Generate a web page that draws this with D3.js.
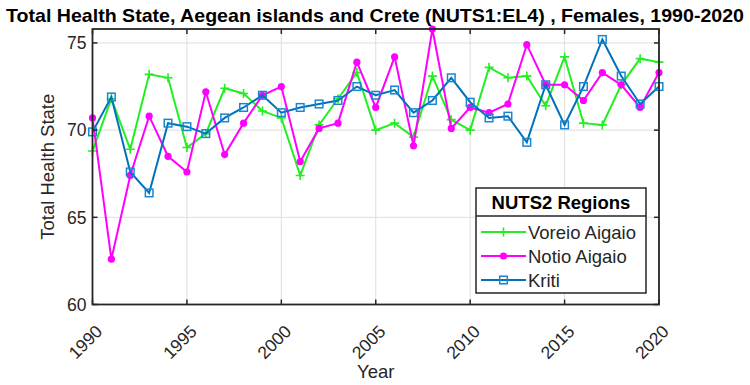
<!DOCTYPE html>
<html>
<head>
<meta charset="utf-8">
<script src="https://cdn.jsdelivr.net/npm/d3@7/dist/d3.min.js"></script>
<style>
  body { margin: 0; background: #fff; }
  svg text { font-family: "Liberation Sans", Arial, sans-serif; }
</style>
</head>
<body>
<div id="chart"></div>
<script>
const years = [1990, 1991, 1992, 1993, 1994, 1995, 1996, 1997, 1998, 1999,
               2000, 2001, 2002, 2003, 2004, 2005, 2006, 2007, 2008, 2009,
               2010, 2011, 2012, 2013, 2014, 2015, 2016, 2017, 2018, 2019, 2020];
const voreioAigaio = [68.8, 71.8, 68.9, 73.2, 73.0, 69.0, 69.8, 72.4, 72.1, 71.1,
                      70.7, 67.4, 70.3, 71.8, 73.3, 70.0, 70.4, 69.6, 73.1, 70.6,
                      70.0, 73.6, 73.0, 73.1, 71.4, 74.2, 70.4, 70.3, 72.6, 74.1, 73.9];
const notioAigaio = [70.7, 62.6, 67.4, 70.8, 68.5, 67.6, 72.2, 68.6, 70.4, 72.0,
                     72.5, 68.2, 70.1, 70.4, 73.9, 71.3, 74.2, 69.1, 75.8, 70.1,
                     71.3, 71.0, 71.5, 74.9, 72.6, 72.6, 71.7, 73.3, 72.6, 71.3, 73.3];
const kriti = [69.9, 71.9, 67.6, 66.4, 70.4, 70.2, 69.8, 70.7, 71.3, 72.0,
               71.0, 71.3, 71.5, 71.7, 72.5, 72.0, 72.3, 71.0, 71.7, 73.0,
               71.6, 70.7, 70.8, 69.3, 72.6, 70.3, 72.5, 75.2, 73.1, 71.5, 72.5];
const xTicks = [1990, 1995, 2000, 2005, 2010, 2015, 2020];
const yTicks = [60, 65, 70, 75];
const seriesNames = ['Voreio Aigaio', 'Notio Aigaio', 'Kriti'];

const W = 750, H = 385;
const margin = { top: 29, right: 91, bottom: 80.5, left: 92.5 };
const width = W - margin.left - margin.right;
const height = H - margin.top - margin.bottom;
const axisCol = '#262626';

const svg = d3.select('#chart').append('svg')
  .attr('width', W).attr('height', H);

const x = d3.scaleLinear().domain([1990, 2020]).range([margin.left, margin.left + width]);
const y = d3.scaleLinear().domain([60, 75.8]).range([margin.top + height, margin.top]);

// grid
svg.append('g').selectAll('line.gx')
  .data(xTicks).enter().append('line')
  .attr('x1', d => x(d)).attr('x2', d => x(d))
  .attr('y1', y(60)).attr('y2', y(75.8))
  .attr('stroke', '#dedede').attr('stroke-width', 1);
svg.append('g').selectAll('line.gy')
  .data(yTicks).enter().append('line')
  .attr('x1', x(1990)).attr('x2', x(2020))
  .attr('y1', d => y(d)).attr('y2', d => y(d))
  .attr('stroke', '#dedede').attr('stroke-width', 1);

// series
const series = [
  { name: seriesNames[0], values: voreioAigaio, color: '#22ee22', marker: 'plus' },
  { name: seriesNames[1], values: notioAigaio, color: '#ff00ff', marker: 'dot' },
  { name: seriesNames[2], values: kriti, color: '#0072bd', marker: 'square' }
];

const line = d3.line().x(d => x(d[0])).y(d => y(d[1]));

function drawMarker(g, px, py, s) {
  if (s.marker === 'plus') {
    g.append('path')
      .attr('d', `M${px - 4.5},${py}H${px + 4.5}M${px},${py - 4.5}V${py + 4.5}`)
      .attr('stroke', s.color).attr('stroke-width', 1.6);
  } else if (s.marker === 'dot') {
    g.append('circle').attr('cx', px).attr('cy', py).attr('r', 3.6)
      .attr('fill', s.color);
  } else {
    g.append('rect').attr('x', px - 3.8).attr('y', py - 3.8)
      .attr('width', 7.6).attr('height', 7.6)
      .attr('fill', 'none').attr('stroke', '#1a86d0').attr('stroke-width', 1.5);
  }
}

series.forEach(s => {
  const pts = years.map((yr, i) => [yr, s.values[i]]);
  svg.append('path')
    .attr('d', line(pts))
    .attr('fill', 'none')
    .attr('stroke', s.color)
    .attr('stroke-width', 2);
  const g = svg.append('g');
  pts.forEach(p => drawMarker(g, x(p[0]), y(p[1]), s));
});

// axes box + ticks
const axes = svg.append('g');
axes.append('rect')
  .attr('x', x(1990)).attr('y', y(75.8))
  .attr('width', x(2020) - x(1990)).attr('height', y(60) - y(75.8))
  .attr('fill', 'none').attr('stroke', axisCol).attr('stroke-width', 1.8);
xTicks.forEach(t => {
  axes.append('line').attr('x1', x(t)).attr('x2', x(t))
    .attr('y1', y(60)).attr('y2', y(60) - 5).attr('stroke', axisCol).attr('stroke-width', 1.5);
  axes.append('line').attr('x1', x(t)).attr('x2', x(t))
    .attr('y1', y(75.8)).attr('y2', y(75.8) + 5).attr('stroke', axisCol).attr('stroke-width', 1.5);
});
yTicks.forEach(t => {
  axes.append('line').attr('x1', x(1990)).attr('x2', x(1990) + 5)
    .attr('y1', y(t)).attr('y2', y(t)).attr('stroke', axisCol).attr('stroke-width', 1.5);
  axes.append('line').attr('x1', x(2020)).attr('x2', x(2020) - 5)
    .attr('y1', y(t)).attr('y2', y(t)).attr('stroke', axisCol).attr('stroke-width', 1.5);
});

// tick labels
svg.append('g').selectAll('text')
  .data(yTicks).enter().append('text')
  .attr('x', x(1990) - 6)
  .attr('y', d => y(d))
  .attr('dy', '0.36em')
  .attr('text-anchor', 'end')
  .attr('font-size', 17.5)
  .attr('fill', axisCol)
  .text(d => d);

svg.append('g').selectAll('text')
  .data(xTicks).enter().append('text')
  .attr('transform', d => `translate(${x(d) + 11},${y(60) + 28}) rotate(-45)`)
  .attr('text-anchor', 'end')
  .attr('font-size', 17.5)
  .attr('fill', axisCol)
  .text(d => d);

// axis labels
svg.append('text')
  .attr('x', x(2005)).attr('y', 378)
  .attr('text-anchor', 'middle')
  .attr('font-size', 18.5)
  .attr('fill', axisCol)
  .text('Year');

svg.append('text')
  .attr('transform', `translate(54,${y(67.9)}) rotate(-90)`)
  .attr('text-anchor', 'middle')
  .attr('font-size', 18.5)
  .attr('fill', axisCol)
  .text('Total Health State');

// title
svg.append('text')
  .attr('x', 375).attr('y', 22)
  .attr('text-anchor', 'middle')
  .attr('font-size', 18.5)
  .attr('font-weight', 'bold')
  .attr('fill', '#000')
  .attr('textLength', 738)
  .attr('lengthAdjust', 'spacingAndGlyphs')
  .text('Total Health State, Aegean islands and Crete (NUTS1:EL4) , Females, 1990-2020');

// legend
const lg = svg.append('g');
const lx = 476, ly = 188, lw = 170, lh = 105;
lg.append('rect').attr('x', lx).attr('y', ly).attr('width', lw).attr('height', lh)
  .attr('fill', '#fff').attr('stroke', axisCol).attr('stroke-width', 1.5);
lg.append('line').attr('x1', lx).attr('x2', lx + lw).attr('y1', ly + 28).attr('y2', ly + 28)
  .attr('stroke', axisCol).attr('stroke-width', 1.5);
lg.append('text')
  .attr('x', lx + lw / 2).attr('y', ly + 21)
  .attr('text-anchor', 'middle')
  .attr('font-size', 18.5).attr('font-weight', 'bold').attr('fill', '#000')
  .text('NUTS2 Regions');
series.forEach((s, i) => {
  const cy = ly + 44 + i * 24;
  lg.append('line').attr('x1', lx + 5).attr('x2', lx + 50)
    .attr('y1', cy).attr('y2', cy)
    .attr('stroke', s.color).attr('stroke-width', 2);
  drawMarker(lg, lx + 27.5, cy, s);
  lg.append('text')
    .attr('x', lx + 52).attr('y', cy).attr('dy', '0.36em')
    .attr('font-size', 18.5).attr('fill', axisCol)
    .text(s.name);
});
</script>
</body>
</html>
